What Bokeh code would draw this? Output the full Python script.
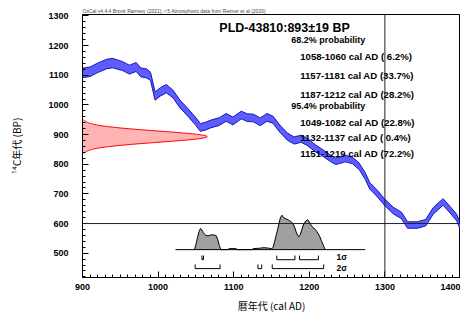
import numpy as np
from bokeh.plotting import figure
from bokeh.models import Range1d, Span, Label, FixedTicker, Title
from bokeh.embed import file_html
from bokeh.resources import INLINE

# ---------------- data ----------------
curve_year = [900, 910, 920, 932, 940, 953, 962, 971, 977, 985, 990, 996, 1003, 1011,
              1020, 1029, 1039, 1049, 1056, 1062, 1070, 1081, 1090, 1099, 1110, 1118,
              1126, 1135, 1144, 1152, 1161, 1171, 1180, 1189, 1197, 1208, 1215, 1228,
              1235, 1248, 1257, 1266, 1274, 1280, 1289, 1300, 1311, 1322, 1330, 1343,
              1354, 1364, 1377, 1386, 1395, 1400]
curve_bp = [1108, 1112, 1125, 1138, 1141, 1131, 1119, 1128, 1110, 1106, 1096, 1030, 1044, 1055,
            1036, 1003, 976, 947, 924, 928, 936, 944, 958, 946, 966, 957,
            956, 943, 958, 950, 920, 893, 880, 886, 876, 854, 843, 820,
            810, 819, 813, 793, 760, 727, 704, 671, 644, 627, 595, 595,
            603, 643, 673, 647, 620, 588]
curve_err = [16, 16, 16, 16, 16, 15, 15, 15, 15, 15, 14, 14, 14, 14,
             13, 13, 13, 13, 13, 13, 13, 13, 13, 13, 13, 13,
             13, 13, 13, 12, 12, 12, 12, 12, 12, 12, 11, 11,
             11, 11, 11, 11, 11, 11, 11, 11, 11, 11, 11, 11,
             11, 11, 11, 11, 11, 11]

sample_name = "PLD-43810"
date_bp = 893
date_err = 19

dist_year = [1048, 1050, 1052, 1054, 1056, 1058, 1060, 1063, 1066, 1070, 1074, 1077, 1079, 1081, 1083,
             1092, 1094, 1103, 1105, 1124, 1126, 1135, 1140, 1146, 1150, 1152, 1154, 1156, 1158,
             1160, 1162, 1164, 1166, 1170, 1174, 1178, 1181, 1183, 1186, 1188, 1190, 1192, 1195,
             1198, 1200, 1203, 1206, 1209, 1212, 1214, 1216, 1218, 1220, 1221]
dist_prob = [0, 5, 12, 18, 21.5, 20, 17, 14.5, 14, 15, 15, 14, 10, 4, 0,
             0, 1, 1, 0, 0, 1, 1.5, 2, 1.5, 1, 2, 8, 14, 20,
             27, 33, 35, 32.5, 31, 29.5, 27, 22, 17, 13, 15, 20, 25, 29,
             30.5, 28, 24, 22, 19.5, 16, 13, 9, 5.5, 2, 0]
dist_range = [1023, 1274]

sigma1_from = [1058, 1157, 1187]
sigma1_to = [1060, 1181, 1212]
sigma1_pct = [6.2, 33.7, 28.2]
sigma2_from = [1049, 1132, 1151]
sigma2_to = [1082, 1137, 1219]
sigma2_pct = [22.8, 0.4, 72.2]

x_ticks = [900, 1000, 1100, 1200, 1300, 1400]
y_ticks = [500, 600, 700, 800, 900, 1000, 1100, 1200, 1300]
ref_year = 1300
ref_bp = 600

credit = "OxCal v4.4.4 Bronk Ramsey (2021); r:5 Atmospheric data from Reimer et al (2020)"

# ---------------- styling constants ----------------
FONT = "Liberation Sans"
CJK = "Noto Sans CJK JP"
dist_base = 512.0
dist_scale = 116.0
gauss_len = 165.0

p = figure(width=460, height=315,
           x_range=Range1d(900, 1400), y_range=Range1d(418, 1305),
           output_backend="svg", toolbar_location=None,
           min_border_left=82, min_border_right=0, min_border_top=14, min_border_bottom=34)
p.xgrid.visible = False
p.ygrid.visible = False
p.outline_line_color = "black"
p.outline_line_width = 1
p.outline_line_alpha = 1
p.background_fill_color = "white"

p.add_layout(Title(text=credit, text_font=FONT, text_font_size="5px", text_font_style="normal",
                   text_color="#444444", align="left", standoff=2, offset=0), "above")

# axes
for ax in (p.xaxis[0], p.yaxis[0]):
    ax.major_tick_in = 6
    ax.major_tick_out = 0
    ax.minor_tick_in = 3
    ax.minor_tick_out = 0
    ax.axis_line_color = "black"
    ax.major_tick_line_color = "black"
    ax.minor_tick_line_color = "black"
    ax.major_label_text_font = FONT
    ax.major_label_text_font_size = "9px"
    ax.major_label_text_font_style = "bold"
    ax.major_label_text_color = "black"
    ax.axis_label_text_font = CJK
    ax.axis_label_text_font_size = "10px"
    ax.axis_label_text_font_style = "normal"
    ax.axis_label_text_color = "black"

p.xaxis.ticker = FixedTicker(ticks=x_ticks, minor_ticks=list(range(900, 1401, 10)))
p.yaxis.ticker = FixedTicker(ticks=y_ticks, minor_ticks=list(range(400, 1301, 20)))
p.xaxis.major_label_standoff = 6
p.yaxis.major_label_standoff = 14
p.xaxis.major_label_text_align = "right"
p.xaxis.axis_label = "暦年代 (cal AD)"
p.yaxis.axis_label = "¹⁴C年代 (BP)"
p.xaxis.axis_label_standoff = 5
p.yaxis.axis_label_standoff = 21

# calibration curve band
c_year = np.array(curve_year, dtype=float)
c_bp = np.array(curve_bp, dtype=float)
c_err = np.array(curve_err, dtype=float)
p.varea(x=c_year, y1=c_bp - c_err, y2=c_bp + c_err, fill_color="#5c5cff", fill_alpha=1)
p.line(c_year, c_bp + c_err, line_color="#1414c0", line_width=1)
p.line(c_year, c_bp - c_err, line_color="#1414c0", line_width=1)

# radiocarbon date gaussian
g_bp = np.linspace(date_bp - 3 * date_err, date_bp + 3 * date_err, 121)
g_x = 900 + gauss_len * np.exp(-0.5 * ((g_bp - date_bp) / date_err) ** 2)
p.harea(y=g_bp, x1=900, x2=g_x, fill_color="#ffb4b4", fill_alpha=1)
p.line(g_x, g_bp, line_color="#ff0000", line_width=1)

# reference lines
p.add_layout(Span(location=ref_bp, dimension="width", line_color="#222222", line_width=1))
p.add_layout(Span(location=ref_year, dimension="height", line_color="#222222", line_width=1))

# calibrated distribution
d_year = np.array(dist_year, dtype=float)
d_prob = np.array(dist_prob, dtype=float) / max(dist_prob)
p.varea(x=d_year, y1=dist_base, y2=dist_base + d_prob * dist_scale, fill_color="#a0a0a0", fill_alpha=1)
p.line(d_year, dist_base + d_prob * dist_scale, line_color="black", line_width=1)
p.line(dist_range, [dist_base, dist_base], line_color="black", line_width=1)

# range brackets
row1, row2, hook = 478.0, 448.0, 14.0
xs1 = [[a, a, b, b] for a, b in zip(sigma1_from, sigma1_to)]
ys1 = [[row1 + hook, row1, row1, row1 + hook] for _ in sigma1_from]
xs2 = [[a, a, b, b] for a, b in zip(sigma2_from, sigma2_to)]
ys2 = [[row2 + hook, row2, row2, row2 + hook] for _ in sigma2_from]
p.multi_line(xs1, ys1, line_color="black", line_width=1)
p.multi_line(xs2, ys2, line_color="black", line_width=1)

def add_text(x, y, txt, size, style="normal", font=FONT, align="left"):
    p.add_layout(Label(x=x, y=y, text=txt, text_font=font, text_font_size=size,
                       text_font_style=style, text_baseline="middle", text_align=align,
                       text_color="black"))

add_text(1236, 486, "1σ", "8.5px", "bold")
add_text(1236, 451, "2σ", "8.5px", "bold")

# texts
add_text(1081, 1258, f"{sample_name}:{date_bp}±{date_err} BP", "12.5px", "bold")
add_text(1176, 1218, "68.2% probability", "9px", "bold")
for i, (a, b, pc) in enumerate(zip(sigma1_from, sigma1_to, sigma1_pct)):
    add_text(1188, 1162 - i * 64, f"{a}-{b} cal AD ({pc:4.1f}%)", "9.6px", "bold")
add_text(1176, 996, "95.4% probability", "9px", "bold")
for i, (a, b, pc) in enumerate(zip(sigma2_from, sigma2_to, sigma2_pct)):
    add_text(1188, 942 - i * 53, f"{a}-{b} cal AD ({pc:4.1f}%)", "9.6px", "bold")

open("out.html", "w").write(file_html(p, INLINE))
